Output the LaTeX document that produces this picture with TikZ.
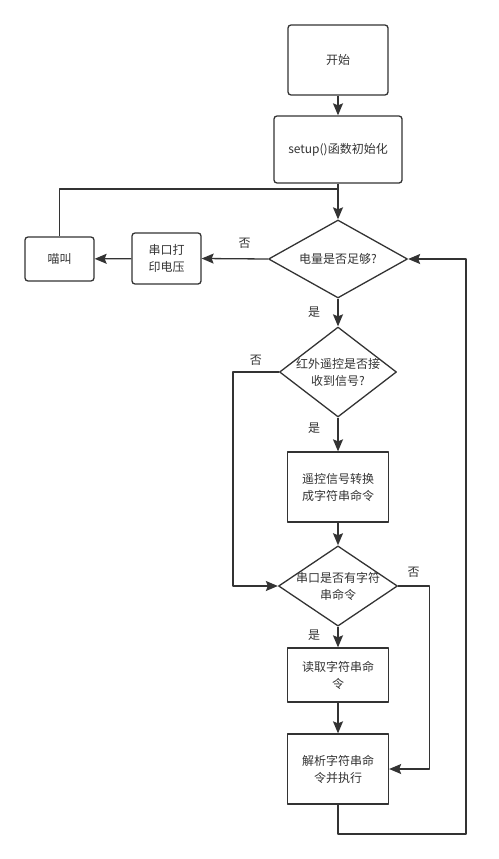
\documentclass[tikz,border=0pt]{standalone}
\usepackage{fontspec}
\setmainfont{Noto Sans CJK SC}
\usetikzlibrary{shapes.geometric,arrows.meta}
\definecolor{ink}{HTML}{333333}
\begin{document}
\begin{tikzpicture}[x=1pt, y=-1pt, font=\fontsize{12}{17}\selectfont, line join=round, ink, text=ink,
	>={Stealth[length=12pt,width=10pt,inset=2pt]}, line width=1.3pt,
	rbox/.style={draw, rounded corners=3pt, align=center, inner sep=0pt},
	sbox/.style={draw, align=center, inner sep=0pt, minimum width=101pt},
	decision/.style={draw, diamond, align=center, inner sep=-8pt}]
		\useasboundingbox (0,0) rectangle (498,859);
		\node[rbox, minimum width=100pt, minimum height=70pt] (start) at (338,60) {开始};
		\node[rbox, minimum width=128pt, minimum height=67pt] (setup) at (338,149.5) {setup()函数初始化};
		\node[decision, minimum width=139pt, minimum height=78pt] (power) at (338,259) {电量是否足够?};
		\node[rbox, minimum width=69pt, minimum height=51pt] (printv) at (166.5,258.5) {串口打\\印电压};
		\node[rbox, minimum width=69pt, minimum height=44pt] (meow) at (59.5,259) {喵叫};
		\node[decision, minimum width=117pt, minimum height=90pt] (irrecv) at (338,372) {红外遥控是否接\\收到信号?};
		\node[sbox, minimum height=70pt] (convert) at (338,487) {遥控信号转换\\成字符串命令};
		\node[decision, minimum width=119pt, minimum height=78pt] (serial) at (338,586) {串口是否有字符\\串命令};
		\node[sbox, minimum height=54pt] (readcmd) at (338,675) {读取字符串命\\令};
		\node[sbox, minimum height=70pt] (execcmd) at (338,769) {解析字符串命\\令并执行};
		\coordinate (join) at (338,189);
		\coordinate (corner) at (466,834);
		\draw[->] (start) -- (setup);
		\draw[->] (setup) -- (power);
		\draw (meow.north) |- (join);
		\draw[->] (power.west) -- node[pos=0.35, above=6pt] {否} (printv.east);
		\draw[->] (printv) -- (meow);
		\draw[->] (power) -- node[left=14pt] {是} (irrecv);
		\draw[->] (irrecv) -- node[pos=0.3, left=14pt] {是} (convert);
		\draw[->] (irrecv.west) -- node[above=3pt] {否} ++(-46,0) |- (serial.west);
		\draw[->] (convert) -- (serial);
		\draw[->] (serial.east) -- node[above=5pt] {否} ++(31,0) |- (execcmd.east);
		\draw[->] (serial) -- node[pos=0.4, left=14pt] {是} (readcmd);
		\draw[->] (readcmd) -- (execcmd);
		\draw[->] (execcmd.south) |- (corner) |- (power.east);
\end{tikzpicture}
\end{document}
